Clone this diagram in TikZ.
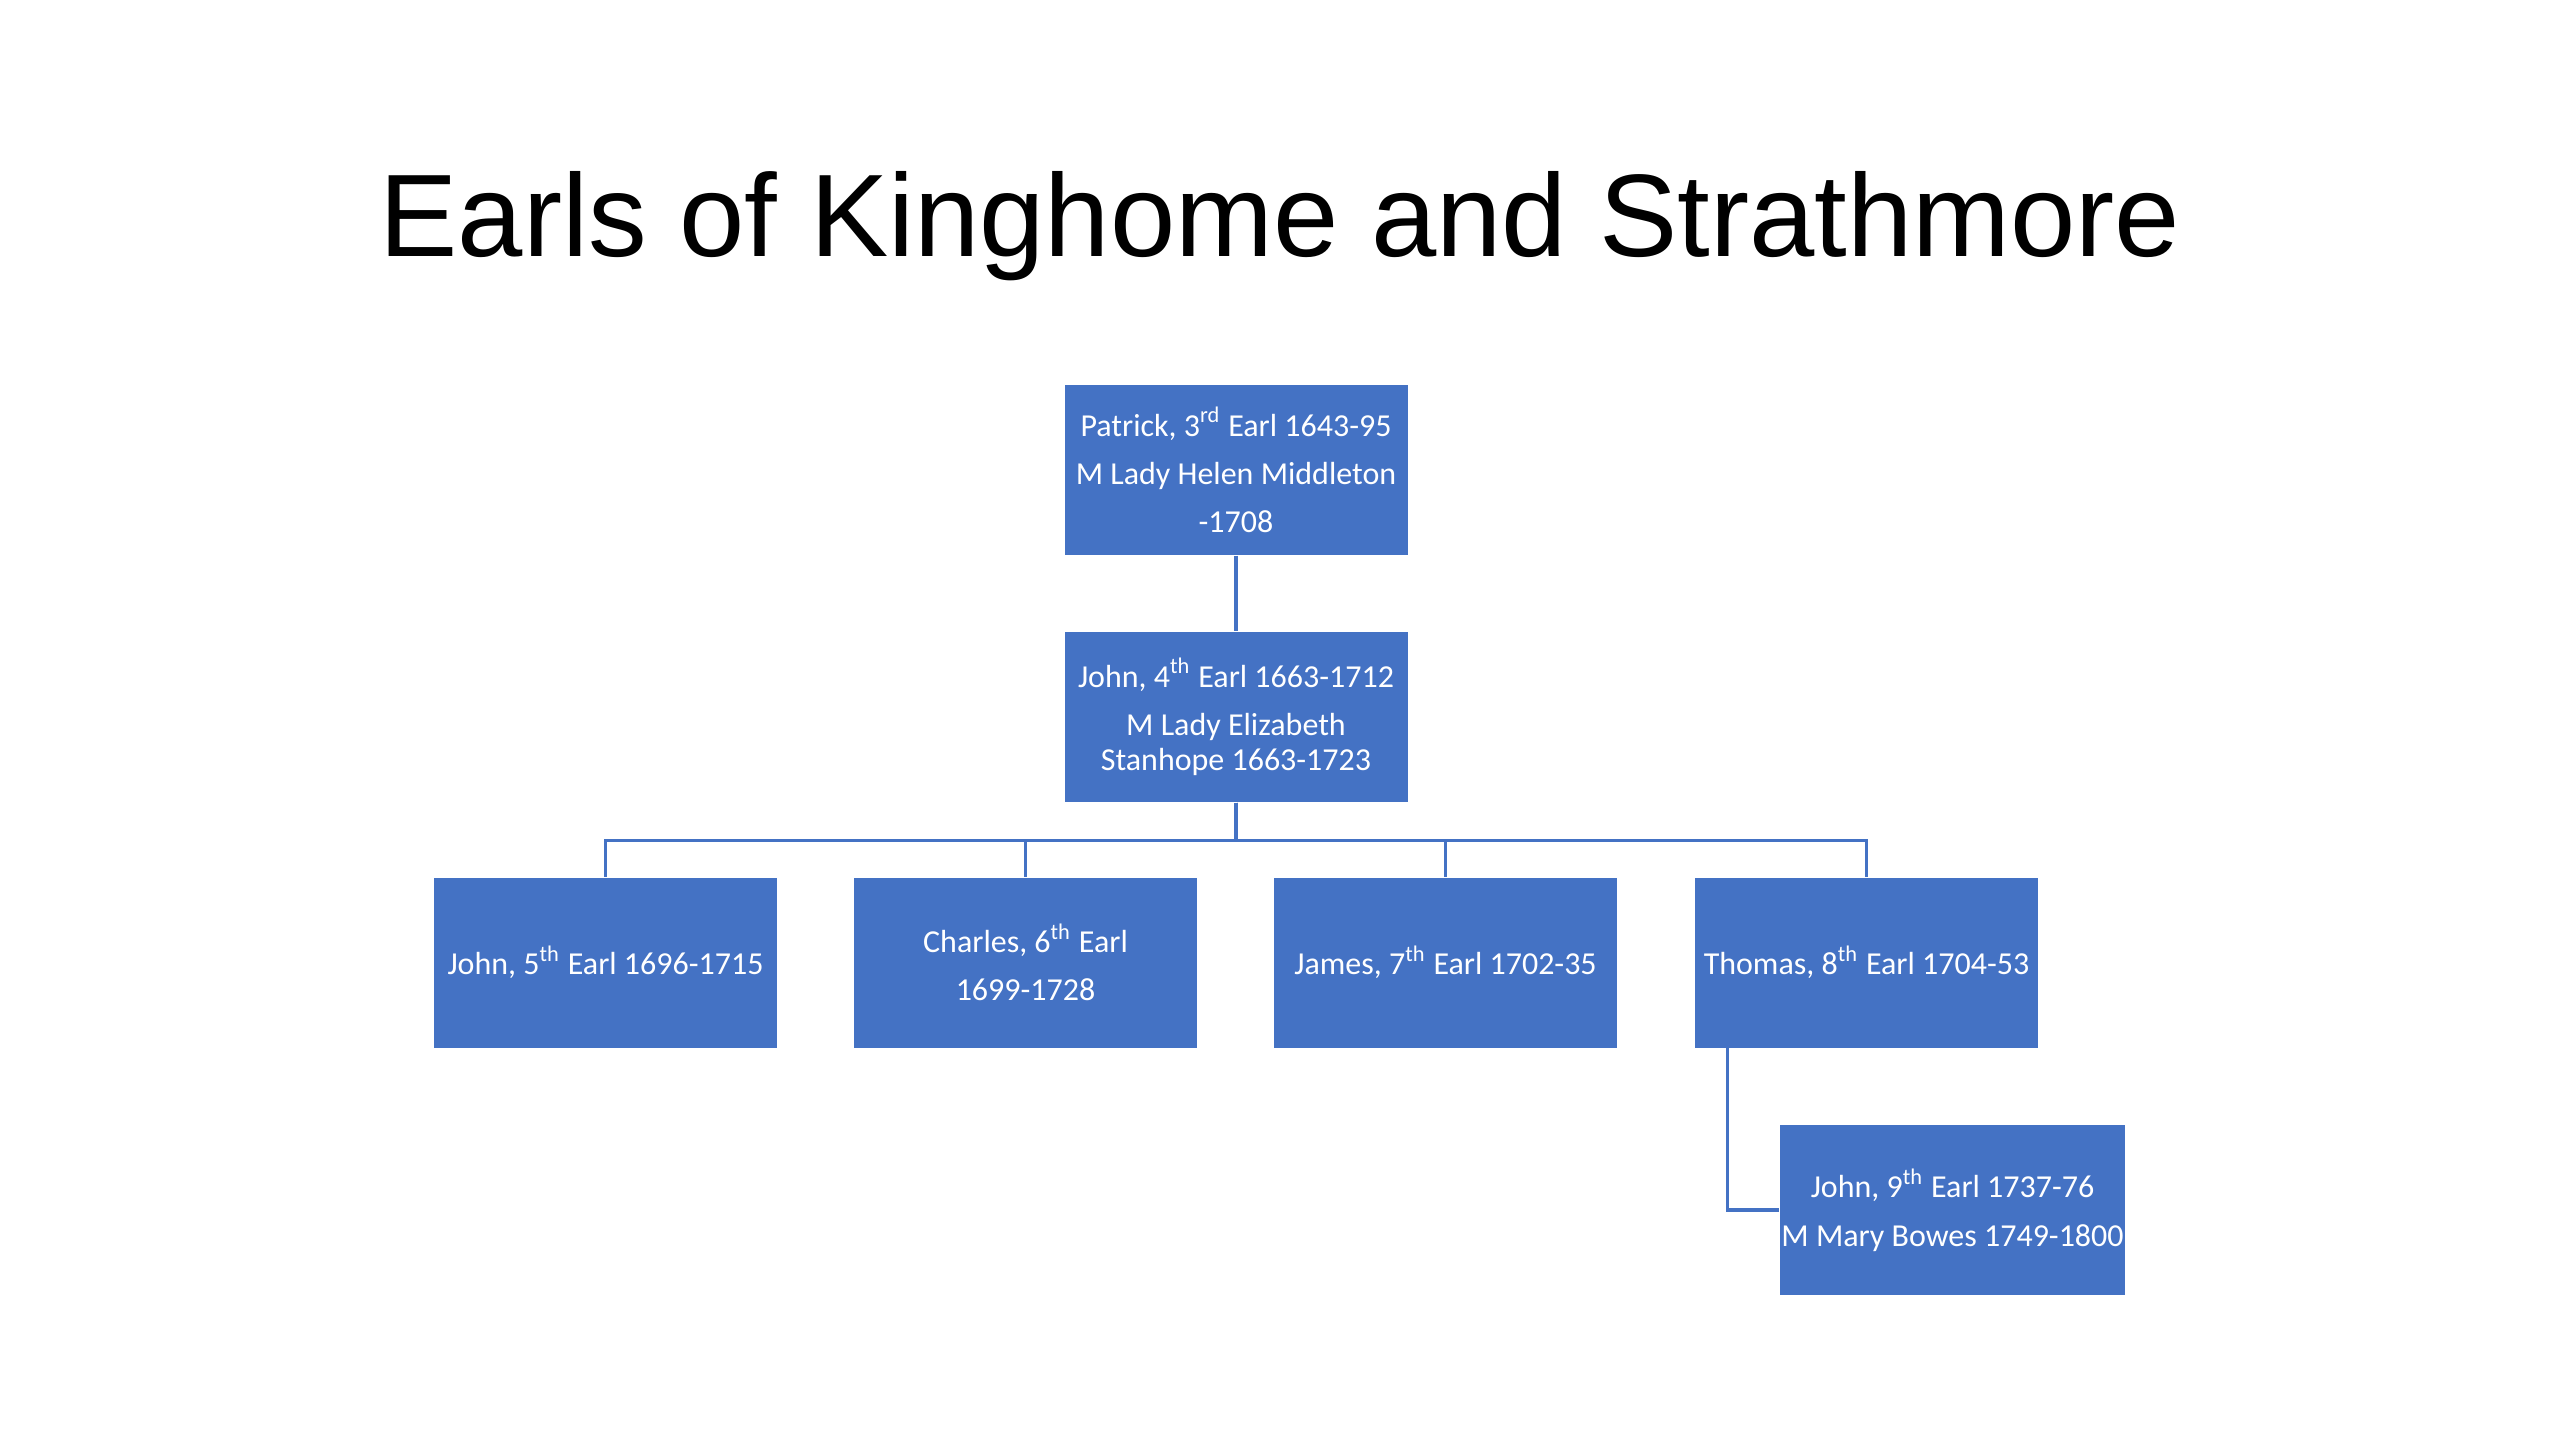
\documentclass[tikz,border=0pt]{standalone}
\usepackage{fontspec}
\setmainfont{Carlito}
\newfontfamily\titlefont{Liberation Sans}
\definecolor{earlblue}{HTML}{4472C4}
\tikzset{
  earl/.style={fill=earlblue, text=white, minimum width=3.43cm, minimum height=1.70cm, inner sep=0pt, align=center, font=\fontsize{9.1}{10}\selectfont},
  link/.style={draw=earlblue, line width=0.9pt}
}
\begin{document}
\begin{tikzpicture}
\useasboundingbox[fill=white] (0,0) rectangle (25.6,-14.4);
\node[anchor=base, font=\titlefont\fontsize{33.4}{40}\selectfont] (title) at (12.80,-2.56) {Earls of Kinghome and Strathmore};
% the two older earls
\node[earl] (p3) at (12.36,-4.70) {Patrick, 3\textsuperscript{rd} Earl 1643-95\\[3.7pt] M Lady Helen Middleton\\[3.7pt] -1708};
\node[earl] (j4) at (12.36,-7.17) {John, 4\textsuperscript{th} Earl 1663-1712\\[3.7pt] M Lady Elizabeth\\ Stanhope 1663-1723};
% the sons
\node[earl] (j5) at (6.055,-9.625) {John, 5\textsuperscript{th} Earl 1696-1715};
\node[earl] (c6) at (10.255,-9.625) {Charles, 6\textsuperscript{th} Earl\\[3.7pt] 1699-1728};
\node[earl] (j7) at (14.455,-9.625) {James, 7\textsuperscript{th} Earl 1702-35};
\node[earl] (t8) at (18.665,-9.625) {Thomas, 8\textsuperscript{th} Earl 1704-53};
\node[earl, minimum width=3.45cm] (j9) at (19.525,-12.10) {John, 9\textsuperscript{th} Earl 1737-76\\[3.7pt] M Mary Bowes 1749-1800};
\draw[link] (p3) -- (j4);
\draw[link] (j4.south) -- ++(0,-0.38) -| (j5.north);
\draw[link] (j4.south) -- ++(0,-0.38) -| (c6.north);
\draw[link] (j4.south) -- ++(0,-0.38) -| (j7.north);
\draw[link] (j4.south) -- ++(0,-0.38) -| (t8.north);
\draw[link] ([xshift=0.33cm]t8.south west) |- (j9.west);
\end{tikzpicture}
\end{document}
